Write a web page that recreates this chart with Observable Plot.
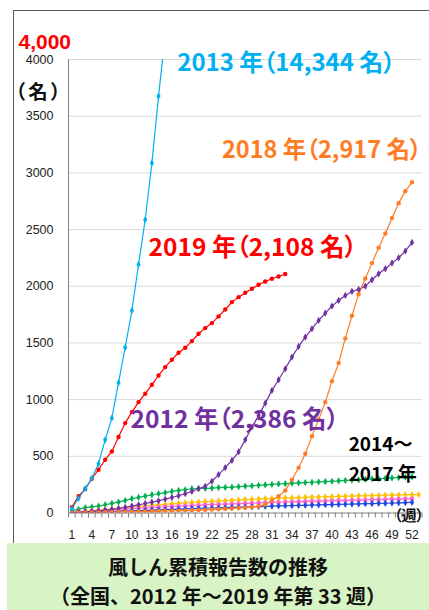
<!DOCTYPE html>
<html>
<head>
<meta charset="utf-8">
<script src="https://cdn.jsdelivr.net/npm/d3@7"></script>
<script src="https://cdn.jsdelivr.net/npm/@observablehq/plot@0.6"></script>
<style>
  body { margin: 0; background: #fff; }
  #wrap { position: relative; width: 429px; height: 610px; overflow: hidden; background: #fff; }
  #frame { position: absolute; left: 13px; top: 10px; width: 440px; height: 545px; border: 1.5px solid #595959; box-sizing: border-box; }
  #chart { position: absolute; left: 0; top: 0; }
  #caption { position: absolute; left: 7px; top: 543px; width: 422px; height: 67px; background: #d8f3c4;
    text-align: center; font-family: "Noto Sans CJK JP", sans-serif; font-weight: bold; font-size: 20px;
    line-height: 29px; padding-top: 9px; box-sizing: border-box; color: #111; }
  svg text { font-feature-settings: "palt"; }
</style>
</head>
<body>
<div id="wrap">
  <div id="frame"></div>
  <div id="chart"></div>
  <div id="caption">風しん累積報告数の推移<br>（全国、2012 年～2019 年第 33 週）</div>
</div>
<script>
// ---- data (cumulative reports by week) ----
const years   = ["2014", "2015", "2016", "2017", "2012", "2018", "2019", "2013"];
const colors  = ["#00b050", "#ffc000", "#ff66cc", "#1f48e0", "#7030a0", "#ff7c24", "#ff0000", "#00b0f0"];
const symbols = ["diamond", "diamond", "square", "diamond", "diamond", "circle", "circle", "diamond"];

const y2012 = [5,8,11,15,20,26,32,40,50,62,72,84,96,108,122,137,152,170,190,214,235,280,338,400,464,540,645,758,860,969,1081,1175,1272,1375,1469,1551,1625,1698,1763,1825,1875,1919,1954,1972,2001,2057,2110,2154,2204,2251,2310,2386];
const y2013 = [40,128,215,308,435,646,837,1149,1460,1786,2192,2587,3086,3677,4215];
const y2014 = [23,32,47,54,61,73,85,96,111,126,138,149,161,170,179,190,199,205,214,216,218,220,224,226,228,232,236,240,244,248,252,256,259,262,265,268,271,274,277,280,283,287,290,293,297,300,303,306,309,313,316,319];
const y2015 = [6,11,16,21,26,31,36,42,47,52,57,62,67,72,76,81,85,89,93,97,100,103,106,109,112,115,118,121,123,126,128,130,132,134,136,138,140,141,143,145,146,148,149,151,152,154,155,157,158,160,161,162,163];
const y2016 = [3,7,11,15,19,23,27,31,35,38,42,45,49,52,55,58,61,64,67,70,72,75,77,79,81,83,85,87,89,91,93,95,97,99,100,102,104,105,107,108,110,111,113,114,116,117,119,120,122,123,125,126];
const y2017 = [2,4,6,8,10,12,14,16,18,20,22,24,26,28,30,32,34,36,38,40,42,44,46,47,49,51,53,55,57,59,60,62,64,65,67,68,70,71,73,74,76,77,79,80,82,83,85,86,88,90,91,93];
const y2018 = [1,2,3,4,5,7,8,9,10,11,13,14,15,17,18,20,21,23,24,26,28,31,34,37,40,44,47,52,60,74,111,149,199,294,400,523,678,825,978,1163,1322,1540,1740,1930,2068,2204,2340,2465,2601,2733,2839,2917];
const y2019 = [52,149,211,302,382,470,543,670,793,890,978,1052,1131,1213,1287,1352,1414,1458,1516,1581,1631,1675,1734,1795,1860,1904,1943,1978,2013,2042,2066,2086,2108];

const yTicks = [0, 500, 1000, 1500, 2000, 2500, 3000, 3500, 4000];
const xTickLabels = [1, 4, 7, 10, 13, 16, 19, 22, 25, 28, 31, 34, 37, 40, 43, 46, 49, 52];

const labelTexts = ["2013 年（14,344 名）", "2018 年（2,917 名）", "2019 年（2,108 名）", "2012 年（2,386 名）", "2014～", "2017 年"];
const labelColors = ["#00b0f0", "#ff7c24", "#ff0000", "#7030a0", "#000000", "#000000"];

// ---- build table ----
const seriesValues = {"2012": y2012, "2013": y2013, "2014": y2014, "2015": y2015, "2016": y2016, "2017": y2017, "2018": y2018, "2019": y2019};
const rows = years.flatMap(yr => seriesValues[yr].map((v, i) => ({year: yr, week: i + 1, value: v})));
const boundaries = d3.range(0.5, 54, 1);

const jp = '"Noto Sans CJK JP", "Noto Sans", sans-serif';
const lat = '"Liberation Sans", Arial, sans-serif';

// annotation placements (data units)
const labelPos = [
  {x: 16.8, y: 3964, size: 24},
  {x: 23.5, y: 3197, size: 23.5},
  {x: 12.5, y: 2332, size: 24.5},
  {x: 9.8,  y: 816,  size: 24.5},
  {x: 42.5, y: 600,  size: 19},
  {x: 42.5, y: 340,  size: 19}
];
const labels = labelTexts.map((t, i) => ({text: t, color: labelColors[i], ...labelPos[i]}));

const chart = Plot.plot({
  width: 429,
  height: 545,
  marginLeft: 68,
  marginRight: 7.5,
  marginTop: 59,
  marginBottom: 32.5,
  x: {domain: [0.5, 53.5]},
  y: {domain: [0, 4000]},
  color: {domain: years, range: colors},
  symbol: {domain: years, range: symbols},
  style: {background: "transparent", fontFamily: lat, overflow: "visible"},
  marks: [
    Plot.ruleY(yTicks.filter(d => d > 0), {stroke: "#d9d9d9", strokeWidth: 1}),
    Plot.axisY({ticks: yTicks, tickSize: 0, tickPadding: 15, fontSize: 12.5, label: null, fill: "#222", tickFormat: d3.format("d")}),
    Plot.axisX({ticks: boundaries, tickSize: 5, tickFormat: () => "", label: null, stroke: "#7f7f7f"}),
    Plot.axisX({ticks: xTickLabels, tickSize: 0, tickPadding: 17.5, fontSize: 12, label: null, fill: "#222", tickFormat: d3.format("d")}),
    Plot.ruleY([0], {stroke: "#7f7f7f", strokeWidth: 1}),
    Plot.ruleX([0.5], {stroke: "#7f7f7f", strokeWidth: 1}),
    Plot.line(rows, {x: "week", y: "value", z: "year", stroke: "year", strokeWidth: 1.2, clip: true}),
    Plot.dot(rows, {x: "week", y: "value", fill: "year", symbol: "year", r: 2.2, stroke: "none", clip: true}),
    Plot.text(labels, {x: "x", y: "y", text: "text", fill: d => d.color, fontSize: d => d.size, fontWeight: "bold",
      fontFamily: jp, textAnchor: "start"}),
    Plot.text(["4,000"], {frameAnchor: "top-left", text: d => d, dx: -50, dy: -25, textAnchor: "start",
      fill: "#ff0000", fontSize: 21, fontWeight: "bold", fontFamily: lat}),
    Plot.text(["（名）"], {frameAnchor: "top-left", text: d => d, dx: -53, dy: 26, textAnchor: "start",
      fill: "#111", fontSize: 19.5, fontWeight: "bold", fontFamily: jp, className: "unit-label"}),
    Plot.text(["（週）"], {frameAnchor: "bottom-right", text: d => d, dx: -28, dy: 8, textAnchor: "start",
      fill: "#111", fontSize: 15, fontWeight: "bold", fontFamily: jp})
  ]
});
chart.querySelectorAll("text").forEach(t => t.style.fontFeatureSettings = '"palt"');
chart.querySelectorAll("text").forEach(t => { if (t.textContent === "（名）") t.style.letterSpacing = "3px"; });
document.getElementById("chart").appendChild(chart);
</script>
</body>
</html>
